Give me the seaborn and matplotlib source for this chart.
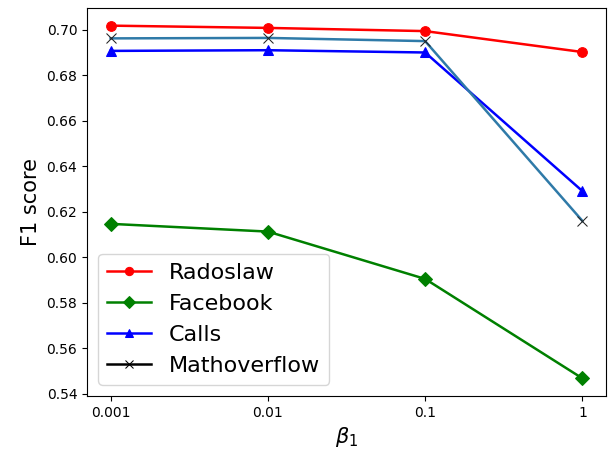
import pandas as pd
import numpy as np
import seaborn as sns
import matplotlib
matplotlib.use("Agg")
import matplotlib.pyplot as plt

# beta_1 값 (범주형 x축)
betas = ["0.001", "0.01", "0.1", "1"]

radoslaw = [0.7018, 0.7008, 0.6994, 0.6902]
facebook = [0.6147, 0.6113, 0.5905, 0.5468]
calls = [0.6907, 0.6910, 0.6900, 0.6291]
mathoverflow = [0.6962, 0.6964, 0.6950, 0.6160]

series_names = ["Radoslaw", "Facebook", "Calls", "Mathoverflow"]


def main():
    fig = plt.figure(figsize=(6.08, 4.53), dpi=100)
    ax = fig.add_axes([87 / 608, 1 - 396 / 453, (606 - 87) / 608, (396 - 8) / 453])

    x = np.arange(len(betas))
    styles = [
        (radoslaw, "red", "o", "red"),
        (facebook, "green", "D", "green"),
        (calls, "blue", "^", "blue"),
        (mathoverflow, "#2f7aa8", "x", "#222222"),
    ]
    for name, (vals, col, mk, mcol) in zip(series_names, styles):
        df = pd.DataFrame({"beta": x, "f1": vals})
        sns.lineplot(data=df, x="beta", y="f1", color=col, marker=mk,
                     markersize=7, markeredgecolor=mcol, markerfacecolor=mcol,
                     linewidth=1.8, label=name, ax=ax)

    ax.set_xticks(x)
    ax.set_xticklabels(betas)
    ax.set_yticks(np.arange(0.54, 0.7001, 0.02))
    ax.set_xlabel(r"$\beta_1$", fontsize=15)
    ax.set_ylabel("F1 score", fontsize=15)

    leg = ax.legend(loc="lower left", fontsize=16, markerscale=0.85)
    # 범례의 Mathoverflow 선은 검은색
    leg.get_lines()[3].set_color("black")
    leg.get_lines()[3].set_markeredgecolor("black")

    fig.savefig("out.png", dpi=100)
    plt.close()


if __name__ == "__main__":
    main()
